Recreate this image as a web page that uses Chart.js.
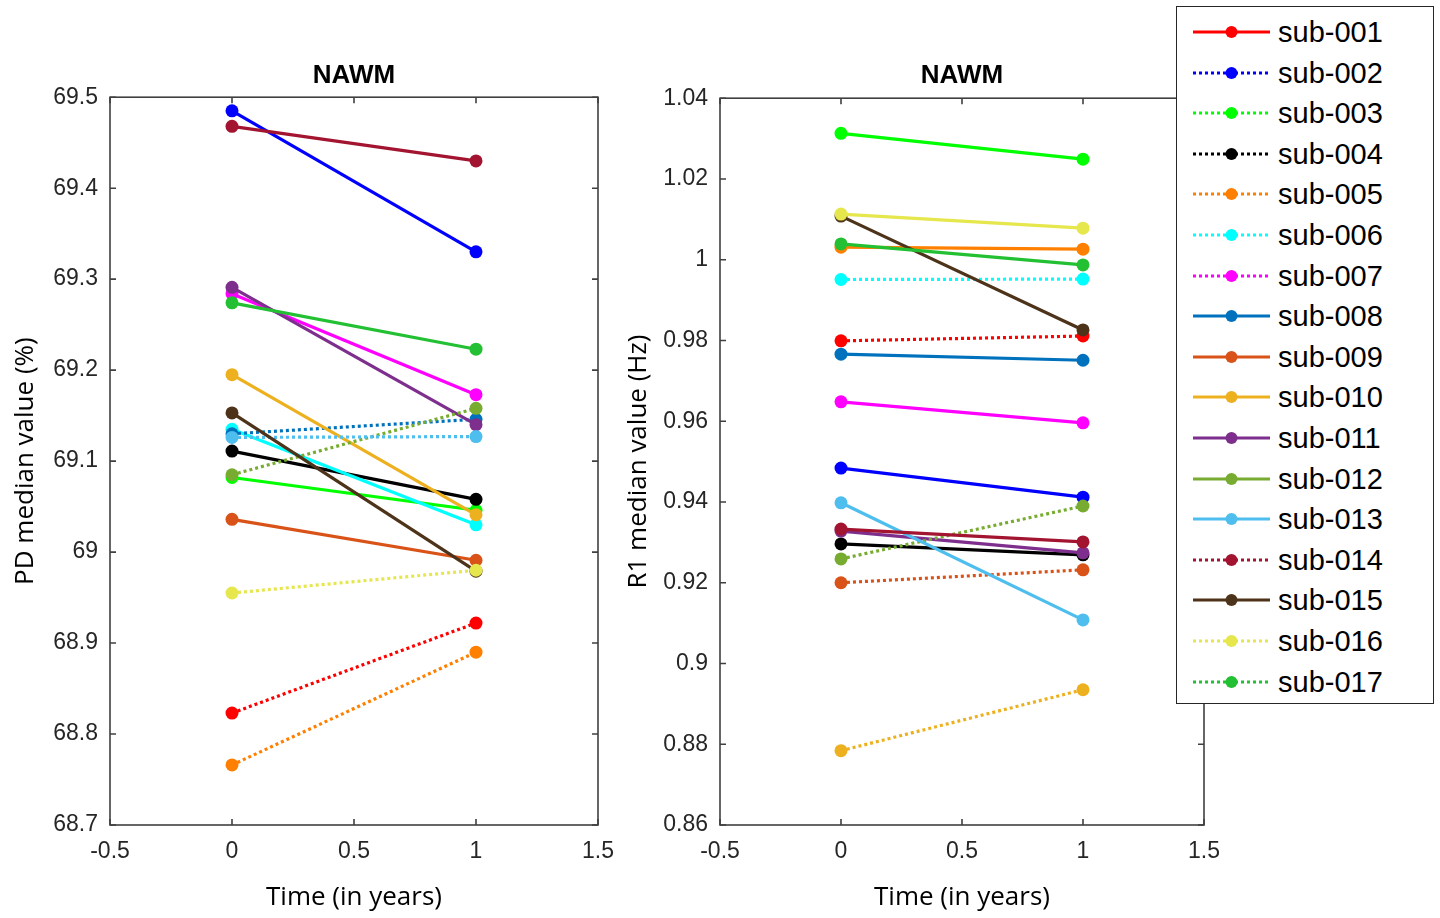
<!DOCTYPE html>
<html>
<head>
<meta charset="utf-8">
<script src="https://cdn.jsdelivr.net/npm/chart.js@4.4.1/dist/chart.umd.min.js"></script>
<style>
  html, body { margin: 0; padding: 0; background: #fff; width: 1440px; height: 918px; overflow: hidden; }
  #wrapL { position: absolute; left: 0; top: 0; width: 640px; height: 918px; }
  #wrapR { position: absolute; left: 612px; top: 0; width: 828px; height: 918px; }
  #legend { position: absolute; left: 1176px; top: 6px; width: 258px; height: 698px; box-sizing: border-box;
            border: 1.5px solid #262626; background: #fff; padding-top: 5px; }
  .row { position: relative; height: 40.6px; }
  .row svg { position: absolute; left: 14px; top: 0; }
  .row span { position: absolute; left: 101px; top: 0; line-height: 40.6px; font-family: "Liberation Sans", Arial, sans-serif;
              font-size: 29px; color: #000; white-space: nowrap; }
</style>
</head>
<body>
<div id="wrapL"><canvas id="cL" width="640" height="918"></canvas></div>
<div id="wrapR"><canvas id="cR" width="828" height="918"></canvas></div>
<div id="legend"></div>
<script>
// ---------------- data ----------------
const subjects = ['sub-001','sub-002','sub-003','sub-004','sub-005','sub-006','sub-007','sub-008','sub-009',
                  'sub-010','sub-011','sub-012','sub-013','sub-014','sub-015','sub-016','sub-017'];
const timePoints = [0, 1];

// PD median value (%) at time 0 and time 1
const pdTime0 = [68.823, 69.485, 69.082, 69.111, 68.766, 69.135, 69.284, 69.130, 69.036, 69.195, 69.291, 69.085, 69.126, 69.468, 69.153, 68.955, 69.274];
const pdTime1 = [68.922, 69.330, 69.046, 69.058, 68.890, 69.030, 69.173, 69.146, 68.991, 69.041, 69.140, 69.158, 69.127, 69.430, 68.979, 68.980, 69.223];

// R1 median value (Hz) at time 0 and time 1
const r1Time0 = [0.9799, 0.9484, 1.0313, 0.9296, 1.0031, 0.9951, 0.9648, 0.9766, 0.9200, 0.8784, 0.9328, 0.9259, 0.9398, 0.9333, 1.0108, 1.0113, 1.0039];
const r1Time1 = [0.9811, 0.9412, 1.0249, 0.9269, 1.0026, 0.9952, 0.9596, 0.9751, 0.9232, 0.8935, 0.9274, 0.9390, 0.9108, 0.9301, 0.9826, 1.0078, 0.9987];

// tick values / labels
const xTickValues = [-0.5, 0, 0.5, 1, 1.5];
const xTickLabels = ['-0.5', '0', '0.5', '1', '1.5'];
const pdTickValues = [68.7, 68.8, 68.9, 69.0, 69.1, 69.2, 69.3, 69.4, 69.5];
const pdTickLabels = ['68.7', '68.8', '68.9', '69', '69.1', '69.2', '69.3', '69.4', '69.5'];
const r1TickValues = [0.86, 0.88, 0.90, 0.92, 0.94, 0.96, 0.98, 1.00, 1.02, 1.04];
const r1TickLabels = ['0.86', '0.88', '0.9', '0.92', '0.94', '0.96', '0.98', '1', '1.02', '1.04'];

// ---------------- styles ----------------
const colors = ['#FF0000','#0000FF','#00FF00','#000000','#FF8000','#00FFFF','#FF00FF','#0072BD','#D95319',
                '#EDB120','#7E2F8E','#77AC30','#4DBEEE','#A2142F','#4D3319','#E6E64D','#22C032'];
const legendDotted = [false,true,true,true,true,true,true,false,false,false,false,false,false,true,false,true,true];
const AXIS_COLOR = '#404040';
const TICK_COLOR = '#262626';

function makeDatasets(v0, v1) {
  return subjects.map((name, i) => ({
    label: name,
    data: timePoints.map((t, k) => ({ x: t, y: (k === 0 ? v0 : v1)[i] })),
    borderColor: colors[i],
    backgroundColor: colors[i],
    borderWidth: 3.2,
    borderDash: v1[i] > v0[i] ? [3, 3] : [],
    pointRadius: 6.5,
    pointHoverRadius: 6.5,
    pointBorderWidth: 0,
    pointStyle: 'circle',
    tension: 0,
    order: -i
  }));
}

const boxPlugin = {
  id: 'matlabBox',
  afterDraw(chart) {
    const { ctx, chartArea: a, scales: { x, y } } = chart;
    ctx.save();
    ctx.strokeStyle = AXIS_COLOR;
    ctx.lineWidth = 1.6;
    ctx.strokeRect(a.left, a.top, a.right - a.left, a.bottom - a.top);
    const tl = 6;
    ctx.beginPath();
    x.ticks.forEach(t => {
      const px = x.getPixelForValue(t.value);
      ctx.moveTo(px, a.bottom); ctx.lineTo(px, a.bottom - tl);
      ctx.moveTo(px, a.top); ctx.lineTo(px, a.top + tl);
    });
    y.ticks.forEach(t => {
      const py = y.getPixelForValue(t.value);
      ctx.moveTo(a.left, py); ctx.lineTo(a.left + tl, py);
      ctx.moveTo(a.right, py); ctx.lineTo(a.right - tl, py);
    });
    ctx.stroke();
    ctx.restore();
  }
};

function makeChart(canvasId, v0, v1, yMin, yMax, yVals, yLabels, yTitle, yWidth, yTitlePad, rightPad, titleBottomPad) {
  return new Chart(document.getElementById(canvasId), {
    type: 'line',
    data: { datasets: makeDatasets(v0, v1) },
    plugins: [boxPlugin],
    options: {
      responsive: false,
      animation: false,
      events: [],
      layout: { padding: { left: 0, right: rightPad, top: 0, bottom: 0 } },
      plugins: {
        legend: { display: false },
        tooltip: { enabled: false },
        title: {
          display: true, text: 'NAWM', color: '#000', fullSize: false,
          font: { family: '"Liberation Sans", Arial, sans-serif', size: 26, weight: 'bold', lineHeight: 1.2 },
          padding: { top: 60, bottom: titleBottomPad }
        }
      },
      scales: {
        x: {
          type: 'linear', min: -0.5, max: 1.5,
          afterBuildTicks: s => { s.ticks = xTickValues.map(v => ({ value: v })); },
          afterFit: s => { s.height = 93; },
          grid: { display: false, drawTicks: false },
          border: { display: false },
          ticks: {
            padding: 13, color: TICK_COLOR, maxRotation: 0, autoSkip: false,
            font: { family: '"Liberation Sans", Arial, sans-serif', size: 23 },
            callback: (v, i) => xTickLabels[i]
          },
          title: {
            display: true, text: 'Time (in years)', color: '#000',
            font: { family: '"Open Sans", sans-serif', size: 26, lineHeight: 1.2 },
            padding: { top: 0, bottom: 5 }
          }
        },
        y: {
          type: 'linear', min: yMin, max: yMax,
          afterBuildTicks: s => { s.ticks = yVals.map(v => ({ value: v })); },
          afterFit: s => { s.width = yWidth; },
          grid: { display: false, drawTicks: false },
          border: { display: false },
          ticks: {
            padding: 12, color: TICK_COLOR, autoSkip: false,
            font: { family: '"Liberation Sans", Arial, sans-serif', size: 23 },
            callback: (v, i) => yLabels[i]
          },
          title: {
            display: true, text: yTitle, color: '#000',
            font: { family: '"Open Sans", sans-serif', size: 26, lineHeight: 1.2 },
            padding: { top: yTitlePad, bottom: 0 }
          }
        }
      }
    }
  });
}

makeChart('cL', pdTime0, pdTime1, 68.7, 69.5, pdTickValues, pdTickLabels, 'PD median value (%)', 110, 10, 42, 6);
makeChart('cR', r1Time0, r1Time1, 0.86, 1.04, r1TickValues, r1TickLabels, 'R1 median value (Hz)', 108, 11, 236, 7);

// ---------------- legend ----------------
const legend = document.getElementById('legend');
const NS = 'http://www.w3.org/2000/svg';
subjects.forEach((name, i) => {
  const row = document.createElement('div');
  row.className = 'row';
  const svg = document.createElementNS(NS, 'svg');
  svg.setAttribute('width', '80'); svg.setAttribute('height', '40');
  const line = document.createElementNS(NS, 'line');
  line.setAttribute('x1', '2'); line.setAttribute('x2', '79');
  line.setAttribute('y1', '20'); line.setAttribute('y2', '20');
  line.setAttribute('stroke', colors[i]); line.setAttribute('stroke-width', '3');
  if (legendDotted[i]) line.setAttribute('stroke-dasharray', '3 3');
  const dot = document.createElementNS(NS, 'circle');
  dot.setAttribute('cx', '40.5'); dot.setAttribute('cy', '20'); dot.setAttribute('r', '6');
  dot.setAttribute('fill', colors[i]);
  svg.appendChild(line); svg.appendChild(dot);
  const span = document.createElement('span');
  span.textContent = name;
  row.appendChild(svg); row.appendChild(span);
  legend.appendChild(row);
});
</script>
</body>
</html>
